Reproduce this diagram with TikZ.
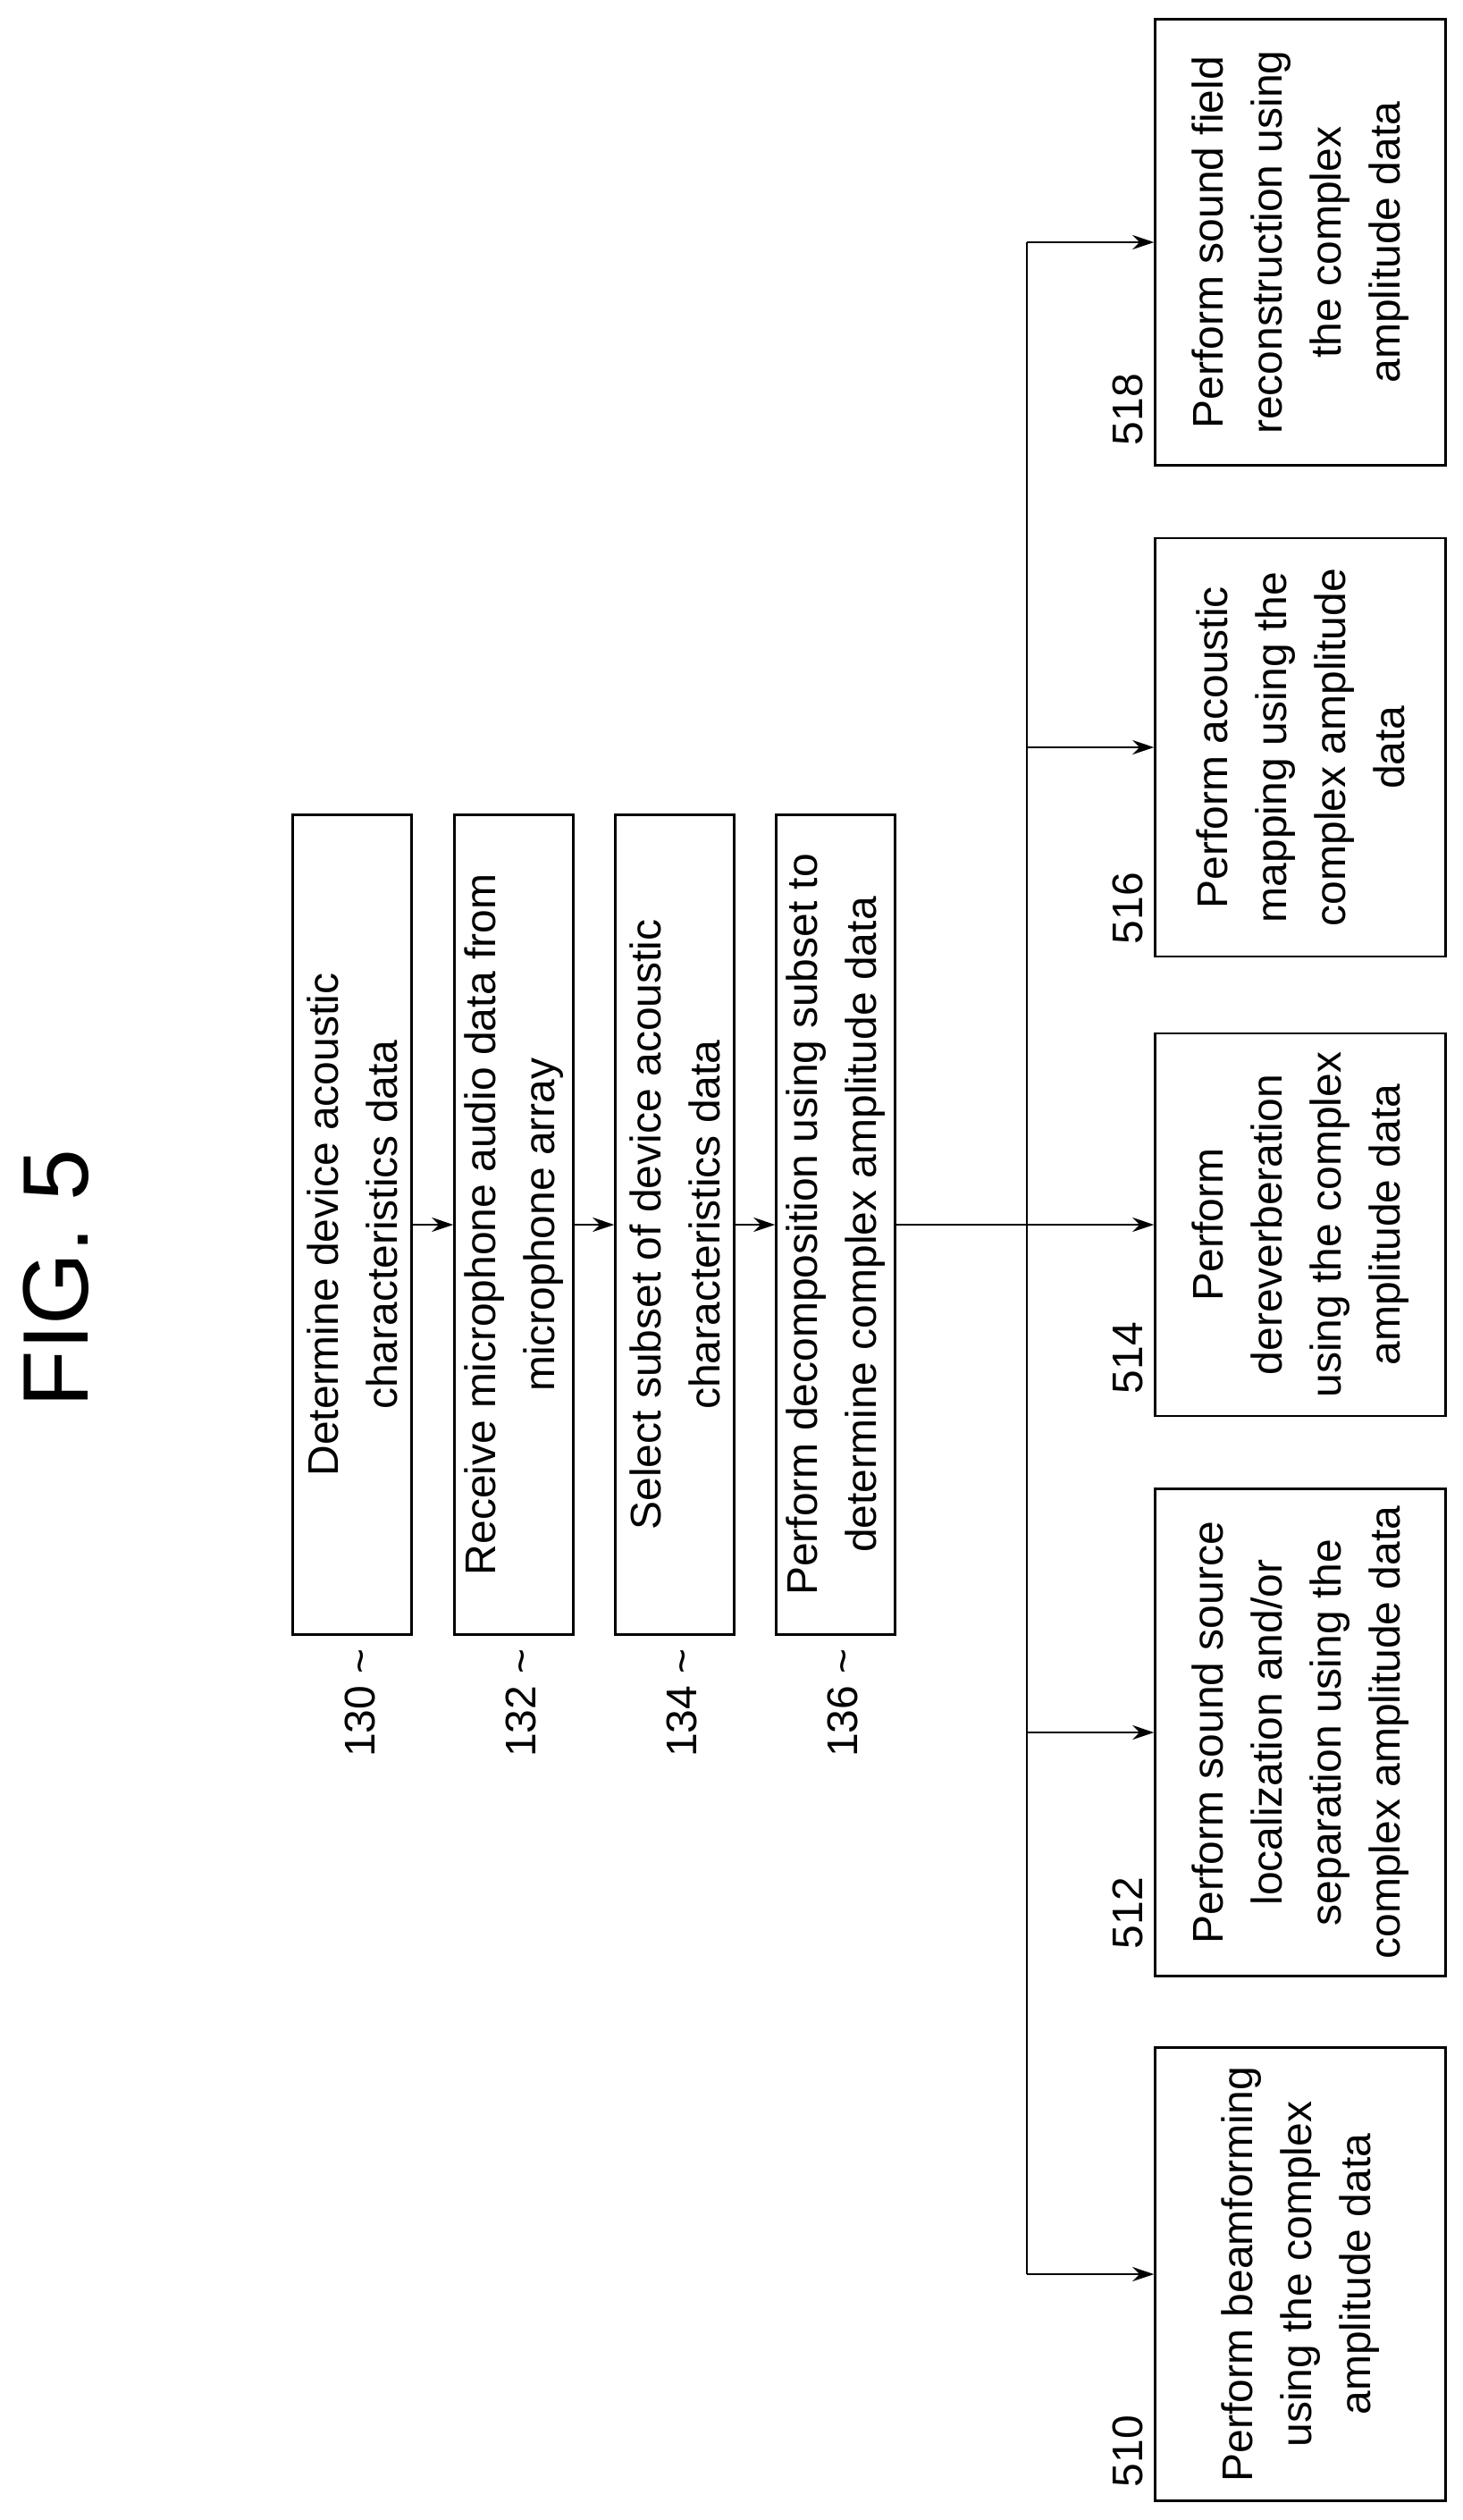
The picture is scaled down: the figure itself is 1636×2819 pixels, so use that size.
\documentclass[tikz,border=0pt]{standalone}
\usepackage{fontspec}
\setmainfont{Liberation Sans}
\usetikzlibrary{arrows.meta}
\begin{document}
\begin{tikzpicture}[x=1pt,y=-1pt,
	  box/.style={draw, line width=2.5pt, rotate=90, align=center, inner sep=0pt,
	    font=\fontsize{48}{66}\selectfont},
	  ref/.style={rotate=90, font=\fontsize{48}{58}\selectfont},
	  arr/.style={line width=2pt, -{Stealth[length=24pt,width=16pt]}}]
	  \useasboundingbox (0,0) rectangle (1636,2819);

	  \node [rotate=90, font=\fontsize{104}{120}\selectfont] (fig) at (63,1430) {FIG. 5};

	  \node [box, minimum width=917pt, minimum height=133pt] (b130) at (394,1370) {Determine device acoustic\\characteristics data};
	  \node [box, minimum width=917pt, minimum height=133pt] (b132) at (575,1370) {Receive microphone audio data from\\microphone array};
	  \node [box, minimum width=917pt, minimum height=133pt] (b134) at (755,1370) {Select subset of device acoustic\\characteristics data};
	  \node [box, minimum width=917pt, minimum height=133pt] (b136) at (935,1370) {Perform decomposition using subset to\\determine complex amplitude data};

	  \node [ref] (l130) at (403,1905) {130 \char`~};
	  \node [ref] (l132) at (583,1905) {132 \char`~};
	  \node [ref] (l134) at (763,1905) {134 \char`~};
	  \node [ref] (l136) at (943,1905) {136 \char`~};

	  \node [box, minimum width=499pt, minimum height=325pt] (b518) at (1455,271) {Perform sound field\\reconstruction using\\the complex\\amplitude data};
	  \node [box, minimum width=468pt, minimum height=325pt] (b516) at (1455,836) {Perform acoustic\\mapping using the\\complex amplitude\\data};
	  \node [box, minimum width=428pt, minimum height=325pt] (b514) at (1455,1370) {Perform\\dereverberation\\using the complex\\amplitude data};
	  \node [box, minimum width=545pt, minimum height=325pt] (b512) at (1455,1938) {Perform sound source\\localization and/or\\separation using the\\complex amplitude data};
	  \node [box, minimum width=507pt, minimum height=325pt] (b510) at (1455,2544) {Perform beamforming\\using the complex\\amplitude data};

	  \node [ref] (l518) at (1262,458) {518};
	  \node [ref] (l516) at (1262,1016) {516};
	  \node [ref] (l514) at (1262,1519) {514};
	  \node [ref] (l512) at (1262,2140) {512};
	  \node [ref] (l510) at (1262,2742) {510};

	  \draw [arr] (b130.south) -- (b132.north);
	  \draw [arr] (b132.south) -- (b134.north);
	  \draw [arr] (b134.south) -- (b136.north);

	  \coordinate (bus) at (1149,1370);
	  \coordinate (bustop) at (bus |- b518.north);
	  \coordinate (busbot) at (bus |- b510.north);
	  \draw [line width=2pt] (bustop) -- (busbot);
	  \draw [arr] (b136.south) -- (b514.north);

	  \draw [arr] (bustop) -- (b518.north);
	  \draw [arr] (bus |- b516.north) -- (b516.north);
	  \draw [arr] (bus |- b512.north) -- (b512.north);
	  \draw [arr] (busbot) -- (b510.north);
\end{tikzpicture}
\end{document}
